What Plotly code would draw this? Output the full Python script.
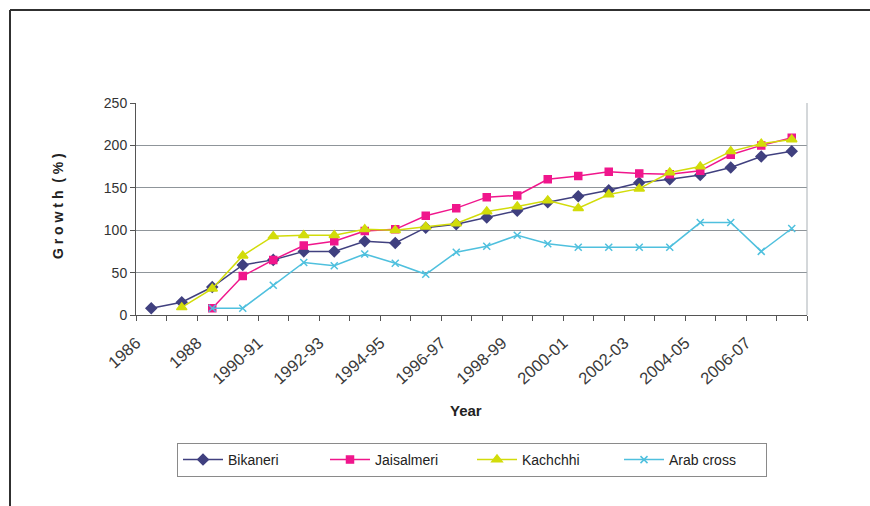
import plotly.graph_objects as go

# Crop years (category axis)
years = ["1986", "1987", "1988", "1989-90", "1990-91", "1991-92", "1992-93",
         "1993-94", "1994-95", "1995-96", "1996-97", "1997-98", "1998-99",
         "1999-00", "2000-01", "2001-02", "2002-03", "2003-04", "2004-05",
         "2005-06", "2006-07", "2007-08"]

# Growth (%) per breed; None where no value was recorded
bikaneri = [8, 15, 33, 59, 65, 75, 75, 87, 85, 103, 107, 115, 123, 133,
            140, 147, 156, 160, 165, 174, 187, 193]
jaisalmeri = [None, None, 8, 46, 65, 82, 87, 99, 101, 117, 126, 139, 141,
              160, 164, 169, 167, 166, 170, 189, 200, 209]
kachchhi = [None, 9, 31, 70, 93, 94, 94, 101, 100, 104, 108, 122, 128, 135,
            126, 142, 149, 168, 175, 193, 202, 207]
arab_cross = [None, None, 8, 8, 35, 62, 58, 72, 61, 48, 74, 81, 94, 84,
              80, 80, 80, 80, 109, 109, 75, 102]

y_ticks = [0, 50, 100, 150, 200, 250]
# every other year is labelled
x_ticktext = [y if i % 2 == 0 else "" for i, y in enumerate(years)]

series = [
    ("Bikaneri", bikaneri, "#40407f", "diamond", 8),
    ("Jaisalmeri", jaisalmeri, "#f0168c", "square", 7),
    ("Kachchhi", kachchhi, "#d2dc0a", "triangle-up", 9),
    ("Arab cross", arab_cross, "#4fc0de", "x-thin-open", 7),
]

fig = go.Figure()
for name, vals, color, symbol, size in series:
    fig.add_trace(go.Scatter(
        x=years, y=vals, name=name, mode="lines+markers",
        line=dict(color=color, width=1.5),
        marker=dict(symbol=symbol, size=size, color=color,
                    line=dict(color=color, width=1.5)),
        connectgaps=False,
    ))

W, H = 870, 506
L, R, T, B = 136, 63, 103, 191
pw, ph = W - L - R, H - T - B


def px_x(px):
    return (px - L) / pw


def px_y(py):
    return (H - B - py) / ph


fig.update_layout(
    width=W, height=H,
    margin=dict(l=L, r=R, t=T, b=B),
    paper_bgcolor="white", plot_bgcolor="white",
    font=dict(family="Arial, Liberation Sans, sans-serif", color="#333333"),
    showlegend=True,
    legend=dict(
        orientation="h",
        x=px_x(177), y=px_y(443), xanchor="left", yanchor="top",
        bordercolor="#8a8a8a", borderwidth=1,
        font=dict(size=14, color="#222222"),
        entrywidth=92, entrywidthmode="pixels",
        itemwidth=40,
    ),
    xaxis=dict(
        type="category",
        tickmode="array", tickvals=years, ticktext=x_ticktext,
        tickson="boundaries", ticks="outside", ticklen=5,
        tickcolor="#555555", tickangle=-42,
        tickfont=dict(size=16.5, color="#3a3a3a"),
        ticklabelshift=-15, ticklabelstandoff=11,
        showgrid=False, showline=True, linecolor="#555555", linewidth=1,
        range=[-0.5, len(years) - 0.5],
    ),
    yaxis=dict(
        range=[0, 250], tickvals=y_ticks,
        ticks="outside", ticklen=5, tickcolor="#555555",
        tickfont=dict(size=14, color="#333333"),
        showgrid=True, gridcolor="#8f959a", gridwidth=1,
        showline=True, linecolor="#555555", linewidth=1,
        zeroline=False,
    ),
    annotations=[
        dict(text="<b>Year</b>", xref="paper", yref="paper",
             x=px_x(466), y=px_y(410), xanchor="center", yanchor="middle",
             showarrow=False, font=dict(size=15, color="#222222")),
        dict(text="<b>G r o w t h  ( % )</b>", xref="paper", yref="paper",
             x=px_x(58), y=px_y(206), xanchor="center", yanchor="middle",
             showarrow=False, textangle=-90,
             font=dict(size=14, color="#222222")),
    ],
    shapes=[
        # right edge of plot area
        dict(type="line", xref="paper", yref="paper", x0=1, x1=1, y0=0, y1=1,
             line=dict(color="#a9b0b5", width=1)),
        # outer frame
        dict(type="line", xref="paper", yref="paper",
             x0=px_x(10), x1=px_x(872), y0=px_y(10), y1=px_y(10),
             line=dict(color="#303030", width=2)),
        dict(type="line", xref="paper", yref="paper",
             x0=px_x(10), x1=px_x(10), y0=px_y(10), y1=px_y(508),
             line=dict(color="#303030", width=2)),
    ],
)

fig.write_html("out.html")
